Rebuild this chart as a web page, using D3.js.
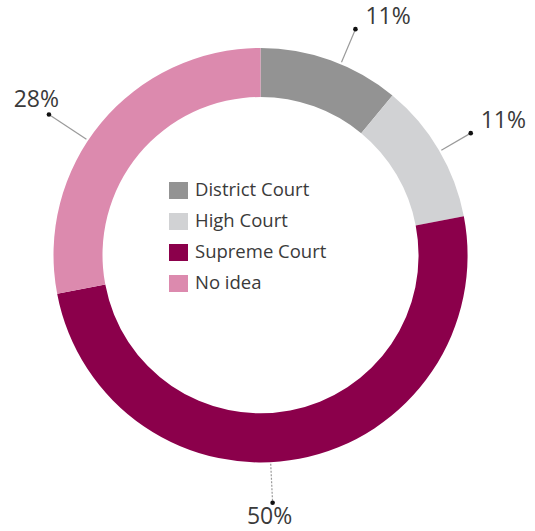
<!DOCTYPE html>
<html>
<head>
<meta charset="utf-8">
<script src="https://cdn.jsdelivr.net/npm/d3@7"></script>
<style>
  body { margin: 0; background: #fff; }
  text { font-family: 'Open Sans', sans-serif; }
</style>
</head>
<body>
<div class="canvas"></div>
<script>
// data
const courts = ['District Court', 'High Court', 'Supreme Court', 'No idea']
const shares = [11, 11, 50, 28]
const colours = ['#939393', '#d1d2d4', '#8b004b', '#dc8aae']

// label leader tweaks (degrees off the slice middle, length past ring), layout only
const nudge = [3, 0.5, 8, -6]
const reach = [38, 36, 41, 47]

const width = 535
const height = 531

const svg = d3.select('.canvas')
  .append('svg')
    .attr('width', width)
    .attr('height', height)

const cent = {x: 260.5, y: 255}
const dims = {outer: 207, inner: 158}

const graph = svg.append('g')
  .attr('transform', `translate(${cent.x},${cent.y})`)

const data = courts.map((c, i) => ({name: c, value: shares[i], colour: colours[i]}))

const pie = d3.pie()
  .sort(null)
  .value(d => d.value)

const arcPath = d3.arc()
  .outerRadius(dims.outer)
  .innerRadius(dims.inner)

const arcs = pie(data)

graph.selectAll('path')
  .data(arcs)
  .enter()
  .append('path')
    .attr('d', arcPath)
    .attr('fill', d => d.data.colour)

// leader lines + labels
const pt = (a, r) => [Math.sin(a) * r, -Math.cos(a) * r]

arcs.forEach((d, i) => {
  const a = (d.startAngle + d.endAngle) / 2 + nudge[i] * Math.PI / 180
  const p1 = pt(a, dims.outer + 2)
  const p2 = pt(a, dims.outer + reach[i])

  graph.append('line')
    .attr('x1', p1[0]).attr('y1', p1[1])
    .attr('x2', p2[0]).attr('y2', p2[1])
    .attr('stroke', '#9a9a9a')
    .attr('stroke-width', 1.2)
    .attr('stroke-dasharray', i === 2 ? '2,1.5' : null)

  graph.append('circle')
    .attr('cx', p2[0]).attr('cy', p2[1])
    .attr('r', 2.3)
    .attr('fill', '#111')

  const lab = graph.append('text')
    .text(d.data.value + '%')
    .attr('font-size', 23)
    .attr('fill', '#3a3a3a')

  if (i === 2) {
    lab.attr('x', p2[0] - 3).attr('y', p2[1] + 21).attr('text-anchor', 'middle')
  } else if (a > Math.PI) {
    lab.attr('x', p2[0] + 10).attr('y', p2[1] - 7).attr('text-anchor', 'end')
  } else {
    lab.attr('x', p2[0] + 10).attr('y', p2[1] - 5)
  }
})

// legend
const legendGroup = svg.append('g')
  .attr('transform', 'translate(169,196)')

const rows = legendGroup.selectAll('g')
  .data(data)
  .enter()
  .append('g')
    .attr('transform', (d, i) => `translate(0,${i * 31})`)

rows.append('rect')
  .attr('x', 0)
  .attr('y', -14)
  .attr('width', 19)
  .attr('height', 17)
  .attr('fill', d => d.colour)

rows.append('text')
  .attr('x', 26)
  .attr('y', 0)
  .attr('font-size', 18.5)
  .attr('fill', '#3a3a3a')
  .text(d => d.name)
</script>
</body>
</html>
